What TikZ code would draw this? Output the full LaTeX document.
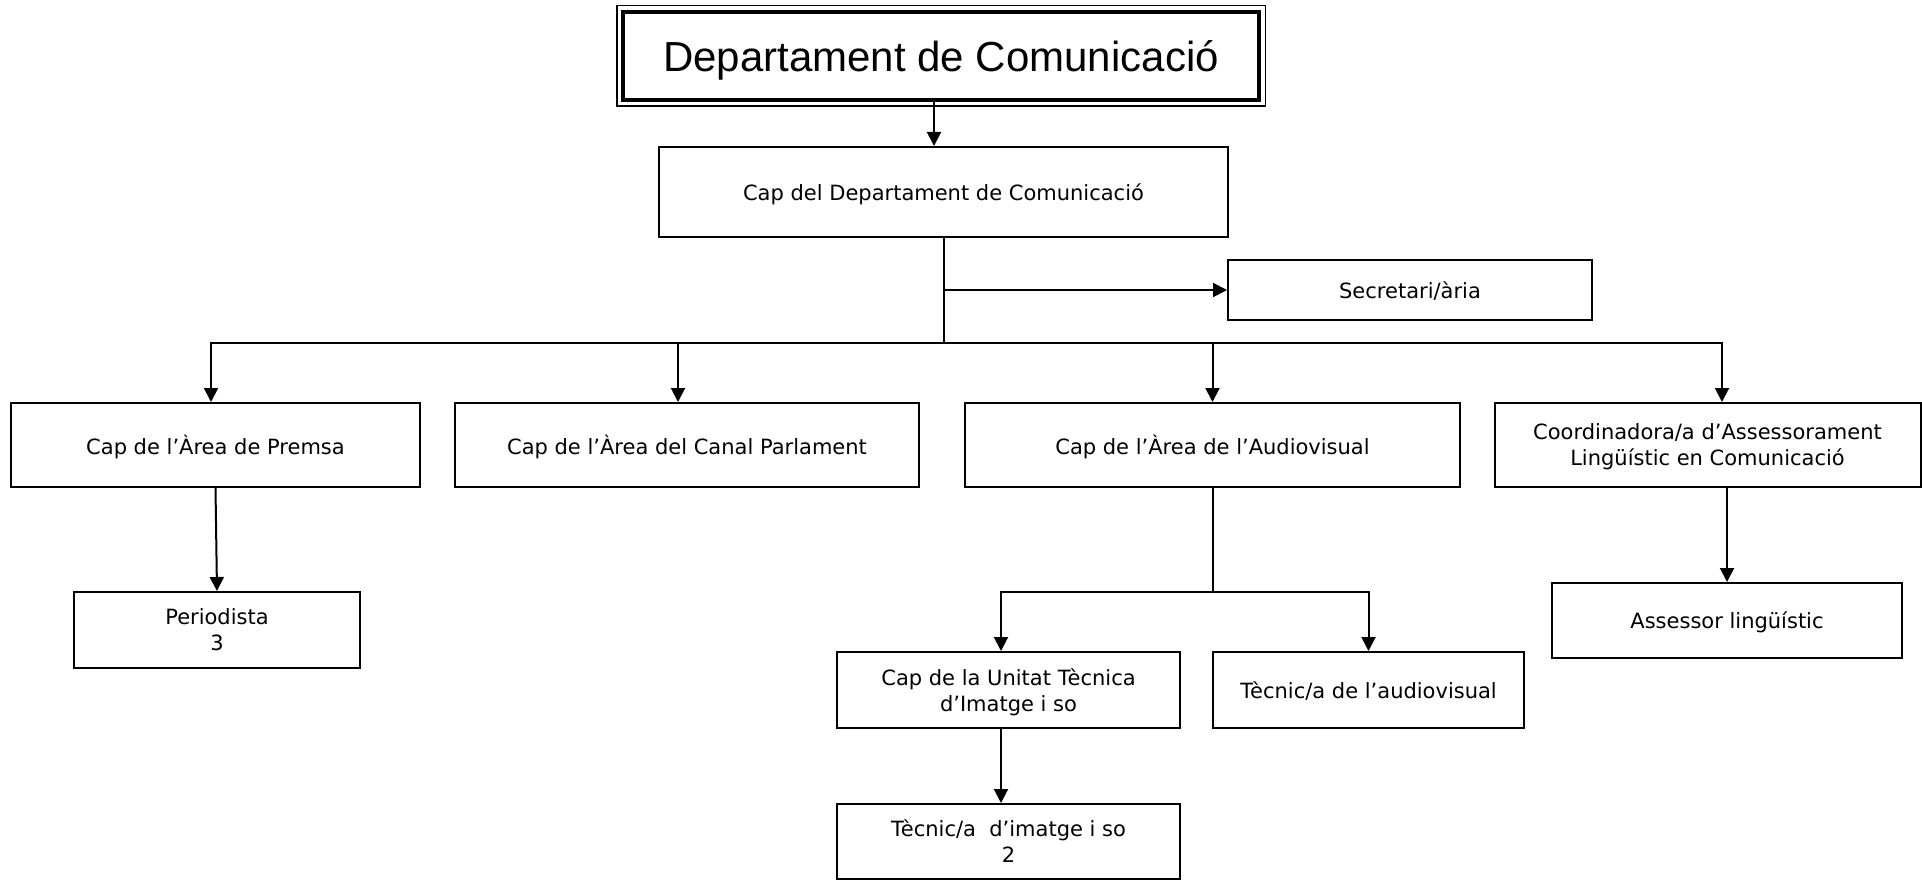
\documentclass[tikz,border=0pt]{standalone}
\usepackage{fontspec}
\setmainfont{DejaVu Sans}
\newfontfamily\titlefont{Liberation Sans}
\usetikzlibrary{arrows.meta,positioning}

\begin{document}
\begin{tikzpicture}[x = 1pt, y = -1pt, line width = 2pt,
  >={Triangle[length=14pt, width=14pt]},
  box/.style = {draw, align = center, inner sep = 0pt, text depth = 0pt, font = \fontsize{21}{26}\selectfont}]
\useasboundingbox (0,0) rectangle (1922,880);
% top
\node[draw, line width = 4.5pt, minimum width = 636pt, minimum height = 88pt, text depth = 0pt,
  font = \titlefont\fontsize{42}{50}\selectfont] (dept) at (941,56) {Departament de Comunicació};
\draw[line width = 1.5pt] ([shift={(-4pt,4pt)}]dept.north west) rectangle ([shift={(4pt,-4pt)}]dept.south east);
\node[box, minimum width = 569pt, minimum height = 90pt] (cap) at (943.5,192) {Cap del Departament de Comunicació};
\node[box, minimum width = 364pt, minimum height = 60pt] (sec) at (1410,290) {Secretari/ària};
\draw[->] (dept.south -| 934,0) -- (cap.north -| 934,0);
% areas
\node[box, minimum width = 409pt, minimum height = 84pt] (premsa) at (215.5,445) {Cap de l’Àrea de Premsa};
\node[box, minimum width = 464pt, minimum height = 84pt] (canal) at (687,445) {Cap de l’Àrea del Canal Parlament};
\node[box, minimum width = 495pt, minimum height = 84pt] (audio) at (1212.5,445) {Cap de l’Àrea de l’Audiovisual};
\node[box, minimum width = 426pt, minimum height = 84pt] (coord) at (1707.5,445) {Coordinadora/a d’Assessorament\\Lingüístic en Comunicació};
\coordinate (j) at (cap.south |- 0,343);
\draw (cap.south) -- (j);
\draw[->] (cap.south |- sec.west) -- (sec.west);
\draw[->] (j) -| (premsa.north -| 211,0);
\draw[->] (j) -| (coord.north -| 1722,0);
\draw[->] (j -| 678,0) -- (canal.north -| 678,0);
\draw[->] (j -| audio.north) -- (audio.north);
% lower level
\node[box, minimum width = 286pt, minimum height = 76pt] (peri) at (217,630) {Periodista\\3};
\node[box, minimum width = 343pt, minimum height = 76pt] (unit) at (1008.5,690) {Cap de la Unitat Tècnica\\d’Imatge i so};
\node[box, minimum width = 311pt, minimum height = 76pt] (tau) at (1368.5,690) {Tècnic/a de l’audiovisual};
\node[box, minimum width = 343pt, minimum height = 75pt] (tis) at (1008.5,841.5) {Tècnic/a\ \ d’imatge i so\\2};
\node[box, minimum width = 350pt, minimum height = 75pt] (asse) at (1727,620.5) {Assessor lingüístic};
\draw[->] (premsa.south) -- (peri.north);
\coordinate (aj) at (audio.south |- 0,592);
\draw (audio.south) -- (aj);
\draw[->] (aj) -| (unit.north -| 1001,0);
\draw[->] (aj) -| (tau.north);
\draw[->] (unit.south -| 1001,0) -- (tis.north -| 1001,0);
\draw[->] (coord.south -| asse.north) -- (asse.north);
\end{tikzpicture}
\end{document}
